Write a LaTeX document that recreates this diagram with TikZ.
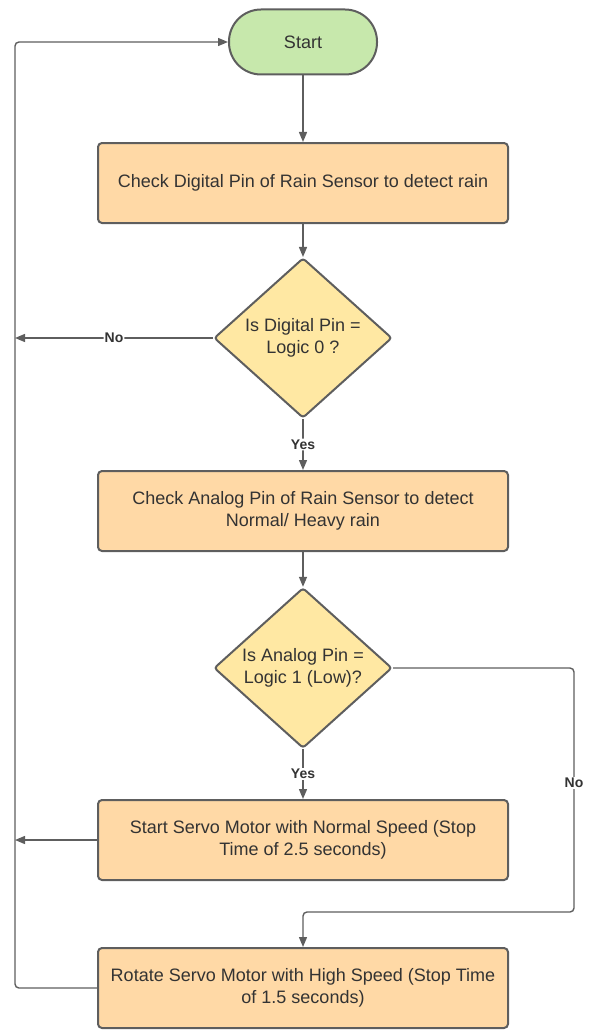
\documentclass[tikz,border=0pt]{standalone}
\usepackage{fontspec}
\setmainfont{Liberation Sans}
\usetikzlibrary{arrows.meta,positioning,shapes.geometric}
\definecolor{linegray}{HTML}{5E5E5E}
\definecolor{textgray}{HTML}{333333}
\definecolor{startgreen}{HTML}{C7E8AC}
\definecolor{boxorange}{HTML}{FFD9A6}
\definecolor{decyellow}{HTML}{FFE8A3}
\begin{document}
\begin{tikzpicture}[x=1pt, y=-1pt,
    box/.style={rectangle, draw=linegray, line width=2pt, rounded corners=4pt, fill=boxorange, minimum width=410pt, minimum height=80pt, align=center, text=textgray, font=\fontsize{18}{22}\selectfont},
    term/.style={rectangle, draw=linegray, line width=2pt, rounded corners=32pt, fill=startgreen, minimum width=148pt, minimum height=65pt, text=textgray, font=\fontsize{18}{22}\selectfont},
    dec/.style={diamond, draw=linegray, line width=2pt, rounded corners=3pt, fill=decyellow, minimum width=178pt, minimum height=160pt, inner sep=0pt, align=center, text=textgray, font=\fontsize{18}{22}\selectfont},
    lbl/.style={fill=white, inner sep=1pt, text=textgray, font=\bfseries\fontsize{14}{16}\selectfont},
    arrow/.style={-{Triangle[length=10pt, width=8pt]}, draw=linegray, line width=1.4pt, rounded corners=4pt}
]
\useasboundingbox (0,0) rectangle (592,1030);

\node[term] (start) at (303,42) {Start};
\node[box] (digital) at (303,183) {Check Digital Pin of Rain Sensor to detect rain};
\node[dec] (isdig) at (303,338) {Is Digital Pin =\\Logic 0 ?};
\node[box] (analog) at (303,511) {Check Analog Pin of Rain Sensor to detect\\Normal/ Heavy rain};
\node[dec] (isana) at (303,668) {Is Analog Pin =\\Logic 1 (Low)?};
\node[box] (normal) at (303,840) {Start Servo Motor with Normal Speed (Stop\\Time of 2.5 seconds)};
\node[box] (high) at (303,988) {Rotate Servo Motor with High Speed (Stop Time\\of 1.5 seconds)};

% rails for the loops
\coordinate (railtop) at (15,42);
\coordinate (railright) at (574,912);

\draw[arrow] (start) -- (digital);
\draw[arrow] (digital) -- (isdig);
\draw[arrow] (isdig) -- node[lbl] {Yes} (analog);
\draw[arrow] (analog) -- (isana);
\draw[arrow] (isana) -- node[lbl] {Yes} (normal);

\draw[arrow] (isdig.west) -- node[lbl] {No} (isdig.west -| railtop);
\draw[arrow] (normal.west) -- (normal.west -| railtop);
\draw[arrow] (high.west) -| (railtop) -- (start.west);

\draw[arrow] (isana.east) -| (railright) -| (high.north);
\node[lbl] (nolow) at (574,783) {No};
\end{tikzpicture}
\end{document}
